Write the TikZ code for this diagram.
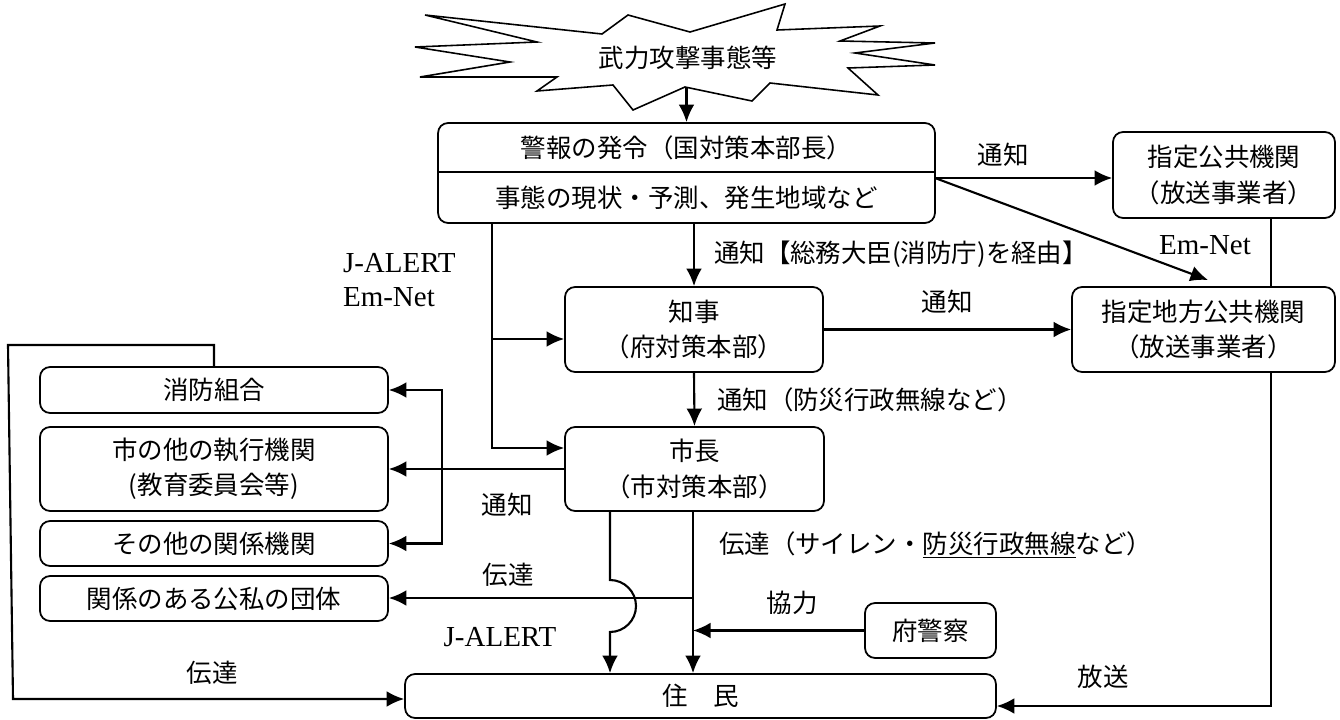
\documentclass[tikz,border=0pt]{standalone}
\usepackage{fontspec}
\setmainfont{Noto Sans CJK JP}
\newfontfamily\romanfont{Liberation Serif}
\usepackage{tikz}
\usetikzlibrary{arrows.meta}

\begin{document}
\begin{tikzpicture}[x=0.02cm, y=-0.02cm, line width=1.2pt,
	>={Latex[length=10pt,width=9pt]},
	font=\fontsize{14.5pt}{20pt}\selectfont,
	box/.style={draw, rounded corners=0.2cm, fill=white, align=center, inner sep=0pt, line width=1pt},
	lbl/.style={inner sep=0pt},
	net/.style={inner sep=0pt, font=\romanfont\fontsize{16.5pt}{19.5pt}\selectfont}]
	\useasboundingbox (0,0) rectangle (1340,720);
	% Paths, nodes and wires:
	\node[lbl] (boom) at (688,58){武力攻撃事態等};
	\draw[line width=0.9pt] (425,15) -- (602,34) -- (628,15) -- (690,32) -- (785,4) -- (777,30) -- (880,26) -- (840,41) -- (935,43) -- (855,53) -- (935,65) -- (848,68) -- (878,95) -- (770,83) -- (752,101) -- (685,87) -- (633,110) -- (613,85) -- (537,91) -- (557,77) -- (420,77) -- (510,62) -- (415,47) -- (537,42) -- cycle;
	\node[box, minimum width=9.94cm, minimum height=2cm] (alarm) at (686.5,173){};
	\node[lbl] (order) at (686.5,148){警報の発令（国対策本部長）};
	\node[lbl] (state) at (686.5,198){事態の現状・予測、発生地域など};
	\coordinate (split) at (686.5,172);
	\draw[line width=1pt] (split -| alarm.west) -- (split -| alarm.east);
	\node[box, minimum width=4.44cm, minimum height=1.72cm] (pub) at (1224,175){指定公共機関\\（放送事業者）};
	\node[box, minimum width=5.26cm, minimum height=1.7cm] (local) at (1203.5,329.5){指定地方公共機関\\（放送事業者）};
	\node[box, minimum width=5.16cm, minimum height=1.7cm] (gov) at (694,329.5){知事\\（府対策本部）};
	\node[box, minimum width=5.18cm, minimum height=1.68cm] (mayor) at (694.5,469){市長\\（市対策本部）};
	\node[box, minimum width=6.96cm, minimum height=0.92cm] (fire) at (214,390){消防組合};
	\node[box, minimum width=6.96cm, minimum height=1.68cm] (exec) at (214,469){市の他の執行機関\\(教育委員会等)};
	\node[box, minimum width=6.96cm, minimum height=0.9cm] (other) at (214,543.5){その他の関係機関};
	\node[box, minimum width=6.96cm, minimum height=0.9cm] (group) at (214,598.5){関係のある公私の団体};
	\node[box, minimum width=2.62cm, minimum height=1.1cm] (police) at (930.5,630.5){府警察};
	\node[box, minimum width=11.82cm, minimum height=0.88cm] (people) at (700.5,696){住　民};
	\coordinate (boomfoot) at (686.5,87);
	\draw[->] (boomfoot) -- (alarm.north);
	\coordinate (tap) at (935,178);
	\draw[->] (tap) -- (tap -| pub.west);
	\coordinate (emtip) at (1208,280);
	\draw[->] (tap) -- (emtip);
	\coordinate (castdown) at (1271,706);
	\draw (pub.south -| castdown) -- (local.north -| castdown);
	\draw[->] (local.south -| castdown) -- (castdown) -- (castdown -| people.east);
	\draw[->] (alarm.south -| gov.north) -- (gov.north);
	\draw[->] (gov.east) -- (local.west);
	\draw[->] (gov.south) -- (mayor.north);
	\coordinate (jgov) at (492,339);
	\coordinate (jmay) at (492,448);
	\draw[->] (alarm.south -| jmay) -- (jmay) -- (jmay -| mayor.west);
	\draw[->] (jgov) -- (jgov -| gov.west);
	\draw[->] (mayor.west) -- (exec.east);
	\coordinate (nx) at (442,470);
	\draw[<->] (fire.east) -- (fire.east -| nx) -- (other.east -| nx) -- (other.east);
	\coordinate (hopx) at (610,580);
	\draw[->] (mayor.south -| hopx) -- (hopx) arc[start angle=-90, end angle=90, radius=26] -- (people.north -| hopx);
	\coordinate (relay) at (693,598);
	\draw[->] (mayor.south -| relay) -- (people.north -| relay);
	\draw[->] (relay) -- (relay -| group.east);
	\draw[->] (police.west) -- (police.west -| relay);
	\coordinate (ltop) at (8,345);
	\coordinate (lbot) at (13,699);
	\draw[->] (fire.north) -- (fire.north |- ltop) -- (ltop) -- (lbot) -- (lbot -| people.west);
	% Labels:
	\node[lbl] (tell1) at (1003,155){通知};
	\node[net] (emnet) at (1205,245){Em-Net};
	\node[lbl, anchor=west] (via) at (713,254){通知【総務大臣(消防庁)を経由】};
	\node[net, anchor=west, align=left] (wire) at (342,280){J-ALERT\\Em-Net};
	\node[lbl] (tell2) at (947,302){通知};
	\node[lbl, anchor=west] (radio) at (716,400){通知（防災行政無線など）};
	\node[lbl] (tell3) at (507,505){通知};
	\node[lbl, anchor=west] (siren) at (718,545){伝達（サイレン・\underline{防災行政無線}など）};
	\node[lbl] (pass1) at (508,575){伝達};
	\node[lbl] (help) at (792,603){協力};
	\node[net] (jal) at (500,637){J-ALERT};
	\node[lbl] (pass2) at (212,673){伝達};
	\node[lbl] (cast) at (1103,677){放送};
\end{tikzpicture}
\end{document}
